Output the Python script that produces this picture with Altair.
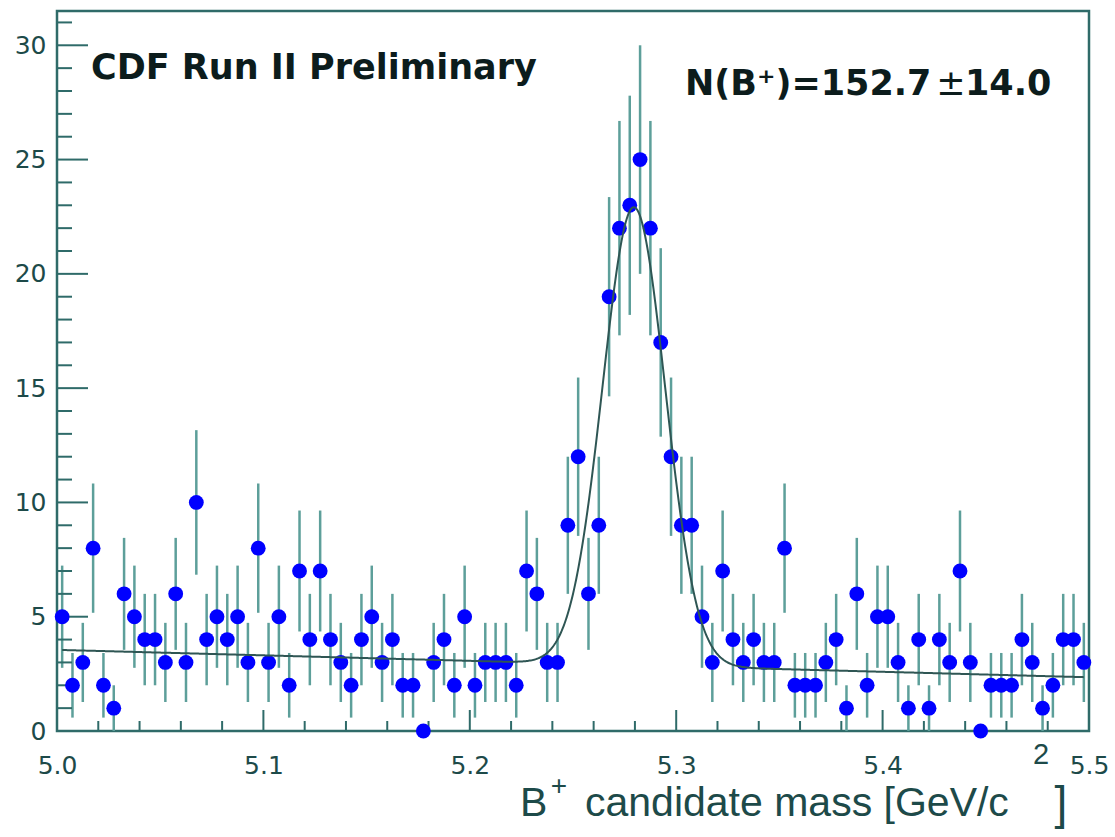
import altair as alt
import numpy as np
import pandas as pd

# ---- histogram: B+ candidate mass, 100 bins of 5 MeV/c^2 between 5.0 and 5.5 ----
BIN_LO = 5.0
BIN_HI = 5.5
BIN_WIDTH = 0.005
entries = [
    5, 2, 3, 8, 2, 1, 6, 5, 4, 4,
    3, 6, 3, 10, 4, 5, 4, 5, 3, 8,
    3, 5, 2, 7, 4, 7, 4, 3, 2, 4,
    5, 3, 4, 2, 2, 0, 3, 4, 2, 5,
    2, 3, 3, 3, 2, 7, 6, 3, 3, 9,
    12, 6, 9, 19, 22, 23, 25, 22, 17, 12,
    9, 9, 5, 3, 7, 4, 3, 4, 3, 3,
    8, 2, 2, 2, 3, 4, 1, 6, 2, 5,
    5, 3, 1, 4, 1, 4, 3, 7, 3, 0,
    2, 2, 2, 4, 3, 1, 2, 4, 4, 3,
]
bin_centers = BIN_LO + BIN_WIDTH * (np.arange(len(entries)) + 0.5)

# ---- fit: Gaussian signal + linear background ----
fit_yield = 152.7
fit_yield_err = 14.0
fit_mean = 5.2795
fit_sigma = 0.0152
bkg_at_lo = 3.55      # background level at 5.0 GeV/c^2 (entries / bin)
bkg_slope = -2.4      # entries / bin per GeV/c^2

# ---- axis ticks and labels ----
y_major = [0, 5, 10, 15, 20, 25, 30]
y_minor = [1, 2, 3, 4, 6, 7, 8, 9, 11, 12, 13, 14, 16, 17, 18, 19,
           21, 22, 23, 24, 26, 27, 28, 29, 31]
x_major = [5.0, 5.1, 5.2, 5.3, 5.4, 5.5]
x_minor = [5.02, 5.04, 5.06, 5.08, 5.12, 5.14, 5.16, 5.18,
           5.22, 5.24, 5.26, 5.28, 5.32, 5.34, 5.36, 5.38,
           5.42, 5.44, 5.46, 5.48]
Y_MAX = 31.5

W, H = 1032, 720
AXIS_COL = "#2f6b69"
LABEL_COL = "#1d4a49"
ERR_COL = "#5d9f9a"
FIT_COL = "#2f5654"
TEXT_COL = "#0c1c1c"
POINT_COL = "#0000ff"

x_scale = alt.Scale(domain=[BIN_LO, BIN_HI], nice=False, zero=False)
y_scale = alt.Scale(domain=[0, Y_MAX], nice=False, zero=True)

# one axis definition shared by every layer, so the layers merge into a single axis
x_axis = alt.Axis(values=x_major, format=".1f", title=None, grid=False,
                  domain=False, ticks=False, tickSize=0, labelFlush=False,
                  labelFont="DejaVu Sans", labelFontSize=25,
                  labelColor=LABEL_COL, labelPadding=22)
y_axis = alt.Axis(values=y_major, format="d", title=None, grid=False,
                  domain=False, ticks=False, tickSize=0, labelFlush=False,
                  labelFont="DejaVu Sans", labelFontSize=25,
                  labelColor=LABEL_COL, labelPadding=11)


def X(field):
    return alt.X(field, scale=x_scale, axis=x_axis)


def Y(field):
    return alt.Y(field, scale=y_scale, axis=y_axis)


hist = pd.DataFrame({"mass": bin_centers, "entries": entries})
base = alt.Chart(hist)

errors = base.transform_calculate(
    lo="datum.entries - sqrt(datum.entries)",
    hi="datum.entries + sqrt(datum.entries)",
).mark_rule(color=ERR_COL, strokeWidth=2.5).encode(
    x=X("mass:Q"), y=Y("lo:Q"), y2="hi:Q",
)

points = base.mark_circle(color=POINT_COL, opacity=1, size=220).encode(
    x=X("mass:Q"), y=Y("entries:Q"),
)

fit_expr = (
    f"{bkg_at_lo} + {bkg_slope} * (datum.m - {BIN_LO})"
    f" + {fit_yield} * {BIN_WIDTH} / ({fit_sigma} * sqrt(2 * PI))"
    f" * exp(-0.5 * pow((datum.m - {fit_mean}) / {fit_sigma}, 2))"
)
fit_curve = alt.Chart(
    alt.sequence(start=BIN_LO + BIN_WIDTH / 2, stop=BIN_HI - BIN_WIDTH / 2 + 1e-6,
                 step=0.0005, as_="m")
).transform_calculate(fit=fit_expr).mark_line(
    color=FIT_COL, strokeWidth=2
).encode(
    x=X("m:Q"), y=Y("fit:Q"),
)


def y_ticks(values, length):
    return alt.Chart(pd.DataFrame({"v": values})).mark_rule(
        color=AXIS_COL, strokeWidth=2
    ).encode(
        y=Y("v:Q"), x=alt.value(0), x2=alt.value(length),
    )


def x_ticks(values, length):
    return alt.Chart(pd.DataFrame({"v": values})).mark_rule(
        color=AXIS_COL, strokeWidth=2
    ).encode(
        x=X("v:Q"), y=alt.value(H), y2=alt.value(H - length),
    )


def label(text, x, y, size, font="DejaVu Sans", weight="normal", align="left",
          color=TEXT_COL):
    return alt.Chart(pd.DataFrame({"t": [text]})).mark_text(
        align=align, baseline="alphabetic", font=font, fontSize=size,
        fontWeight=weight, color=color,
    ).encode(x=alt.value(x), y=alt.value(y), text="t:N")


yield_text = f"N(B\u207a)={fit_yield:.1f}"
yield_err_text = f"{fit_yield_err:.1f}"

texts = [
    label("CDF Run II Preliminary", 34, 68, 35, weight="bold"),
    label(yield_text, 628, 84, 35, weight="bold"),
    label("\u00b1", 894, 84, 35, align="center"),
    label(yield_err_text, 908, 84, 35, weight="bold"),
    # x-axis title, built from pieces for the raised "+" and "2"
    label("B", 463, 805, 41, font="Liberation Sans", color=LABEL_COL),
    label("+", 502, 784, 28, font="Liberation Sans", align="center", color=LABEL_COL),
    label("candidate mass [GeV/c", 528, 805, 41, font="Liberation Sans", color=LABEL_COL),
    label("2", 984, 753, 29, font="Liberation Sans", align="center", color=LABEL_COL),
    label("]", 1004, 808, 46, font="Liberation Sans", align="center", color=LABEL_COL),
]

chart = alt.layer(
    errors,
    y_ticks(y_major, 31), y_ticks(y_minor, 15),
    x_ticks(x_major, 21), x_ticks(x_minor, 10),
    points,
    fit_curve,
    *texts,
).properties(
    width=W, height=H,
    padding={"left": 57, "top": 11, "right": 26, "bottom": 106},
    autosize=alt.AutoSizeParams(type="none"),
    background="white",
).configure_view(
    stroke=AXIS_COL, strokeWidth=2.5,
)

chart.save("out.html", embed_options={"renderer": "svg", "actions": False})
